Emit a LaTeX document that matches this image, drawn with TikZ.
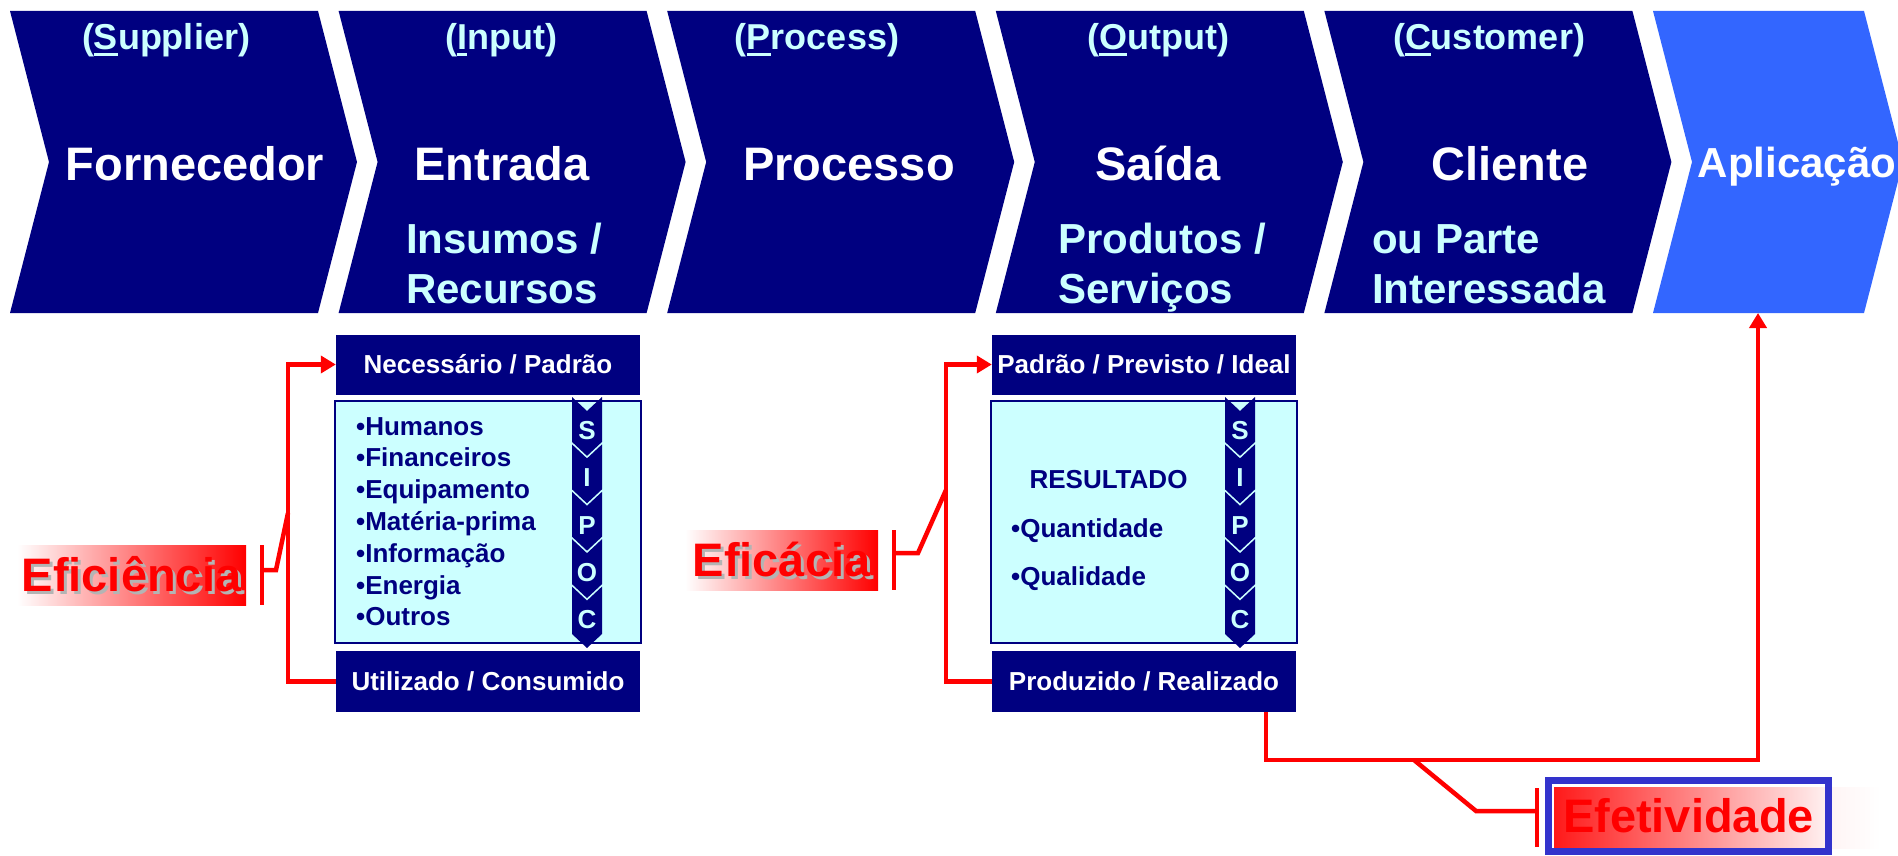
\documentclass[tikz,border=0pt]{standalone}
\usepackage{fontspec}
\setmainfont{Liberation Sans}
\usetikzlibrary{arrows.meta}
\definecolor{navyc}{HTML}{000080}
\definecolor{cyanl}{HTML}{CCFFFF}
\definecolor{aplblue}{HTML}{3366FF}
\definecolor{frameblue}{HTML}{3333CC}
\definecolor{shadowg}{HTML}{B4B4B4}
\newcommand\fsz[1]{\fontsize{#1}{#1}\selectfont}
\newcommand\firstul[1]{\leavevmode\setbox0=\hbox{#1}\rlap{\rule[-6pt]{\wd0}{2.8pt}}\box0}
\newcommand\shtext[1]{{\color{shadowg}\rlap{\kern3pt\raisebox{-3pt}{#1}}}#1}
\tikzset{
  title/.style={text=white, font=\bfseries\fsz{47}, inner sep=0pt},
  paren/.style={text=cyanl, font=\bfseries\fsz{36}, inner sep=0pt},
  sub/.style={text=cyanl, font=\bfseries\fsz{42}, inner sep=0pt},
  hdrbox/.style={fill=navyc, text=white, font=\bfseries\fsz{26}, inner sep=0pt, text height=18.6pt, text depth=0pt, minimum width=304pt},
  cbox/.style={fill=cyanl, draw=navyc, line width=2pt, minimum width=306pt, minimum height=242pt, inner sep=0pt},
  listtxt/.style={text=navyc, font=\bfseries\fsz{26}, inner sep=0pt},
  sipletter/.style={text=cyanl, font=\bfseries\fsz{26}, inner sep=0pt, text height=18.6pt, text depth=0pt},
  redln/.style={draw=red, line width=4.5pt},
  effbox/.style={left color=white, middle color=red!55, right color=red, text=red, font=\bfseries\fsz{47}, inner sep=0pt, text height=33.7pt, text depth=0pt},
  redtip/.tip={Triangle[length=15pt,width=17pt]}
}
\begin{document}
\begin{tikzpicture}[x=1pt,y=-1pt]
\useasboundingbox (0,0) rectangle (1898,856);
% chevrons
\foreach \i in {0,...,4}{
  \pgfmathsetmacro\L{10+328.6*\i}
  \fill[navyc] (\L,11) -- ++(308,0) -- ++(39,151) -- ++(-39,151) -- ++(-308,0) -- ++(39,-151) -- cycle;
}
\fill[aplblue] (1653,11) -- (1864,11) -- (1903,162) -- (1864,313) -- (1653,313) -- (1692,162) -- cycle;
% top texts
\node[paren, anchor=base] (p1) at (166,50) {(\firstul{S}upplier)};
\node[paren, anchor=base] (p2) at (501,50) {(\firstul{I}nput)};
\node[paren, anchor=base] (p3) at (817,50) {(\firstul{P}rocess)};
\node[paren, anchor=base] (p4) at (1158,50) {(\firstul{O}utput)};
\node[paren, anchor=base] (p5) at (1489,50) {(\firstul{C}ustomer)};
\node[title, anchor=base] (t1) at (195,180) {Fornecedor};
\node[title, anchor=base] (t2) at (502,180) {Entrada};
\node[title, anchor=base] (t3) at (849,180) {Processo};
\node[title, anchor=base] (t4) at (1158,180) {Saída};
\node[title, anchor=base] (t5) at (1510,180) {Cliente};
\node[title, font=\bfseries\fsz{42}, anchor=base] (t6) at (1797,177) {Aplicação};
\node[sub, anchor=base west] (s2a) at (406,253) {Insumos /};
\node[sub, anchor=base west] (s2b) at (406,303) {Recursos};
\node[sub, anchor=base west] (s4a) at (1058,253) {Produtos /};
\node[sub, anchor=base west] (s4b) at (1058,303) {Serviços};
\node[sub, anchor=base west] (s5a) at (1372,253) {ou Parte};
\node[sub, anchor=base west] (s5b) at (1372,303) {Interessada};
% lower boxes
\node[hdrbox, minimum height=60pt] (nec) at (488,364.5) {Necessário / Padrão};
\node[cbox] (lbox) at (488,522) {};
\node[hdrbox, minimum height=61pt] (util) at (488,681.5) {Utilizado / Consumido};
\node[hdrbox, minimum height=60pt] (ppi) at (1144,364.5) {Padrão / Previsto / Ideal};
\node[cbox] (rbox) at (1144,522) {};
\node[hdrbox, minimum height=61pt] (prod) at (1144,681.5) {Produzido / Realizado};
% list
\foreach \t [count=\k] in {Humanos,Financeiros,Equipamento,Matéria-prima,Informação,Energia,Outros}{
  \node[listtxt, anchor=base west] (li\k) at (356,{435+31.8*(\k-1)}) {•\t};
}
\node[listtxt, anchor=base] (res) at (1108.5,488) {RESULTADO};
\node[listtxt, anchor=base west] (qt) at (1011,537) {•Quantidade};
\node[listtxt, anchor=base west] (ql) at (1011,585) {•Qualidade};
% SIPOC strips
\foreach \xc/\nm in {587/a,1240/b}{
  \foreach \lt [count=\k from 0] in {S,I,P,O,C}{
    \pgfmathsetmacro\yt{397+47.4*\k}
    \pgfmathsetmacro\yb{\yt+47.4-(\k<4 ? 2.5 : 0)}
    \fill[navyc] (\xc-15,\yt) -- (\xc,\yt+14) -- (\xc+15,\yt) -- (\xc+15,\yb) -- (\xc,\yb+14) -- (\xc-15,\yb) -- cycle;
    \node[sipletter] (sp\nm\k) at (\xc,\yt+33) {\lt};
  }
}
% Eficiencia
\node[effbox, minimum width=229pt, minimum height=60pt] (efc) at (131.5,575) {\shtext{Eficiência}};
\coordinate (lv) at (288,500);
\draw[redln, {redtip}-] (nec.west) -| (lv) |- (util.west);
\coordinate (lj1) at (288,513);
\coordinate (lj2) at (276,570);
\coordinate (lj3) at (262,570);
\draw[redln] (lj1) -- (lj2) -- (lj3);
\draw[redln] (262,545) -- (262,605);
% Eficacia
\node[effbox, minimum width=193pt, minimum height=60pt] (efa) at (781.5,560) {\shtext{Eficácia}};
\coordinate (rv) at (946,500);
\draw[redln, {redtip}-] (ppi.west) -| (rv) |- (prod.west);
\coordinate (rj1) at (946,490);
\coordinate (rj2) at (918,553);
\coordinate (rj3) at (894,553);
\draw[redln] (rj1) -- (rj2) -- (rj3);
\draw[redln] (894,530) -- (894,590);
% Efetividade
\shade[left color=red!90, right color=red!4] (1554,787) rectangle (1832,848);
\shade[left color=red!4, right color=white] (1832,787) rectangle (1881,848);
\node[draw=frameblue, line width=7pt, minimum width=280pt, minimum height=71pt, text=red, font=\bfseries\fsz{47}, inner sep=0pt, text height=33.7pt, text depth=0pt] (eft) at (1688.5,816) {Efetividade};
\coordinate (apl) at (1758,313);
\coordinate (bj) at (1758,760);
\draw[redln, -{redtip}] ([xshift=-30pt]prod.south east) |- (bj) -- (apl);
\coordinate (bj1) at (1414,760);
\coordinate (bj2) at (1476,811);
\coordinate (bj3) at (1537,811);
\draw[redln] (bj1) -- (bj2) -- (bj3);
\draw[redln] (1537,788) -- (1537,847);
\end{tikzpicture}
\end{document}
